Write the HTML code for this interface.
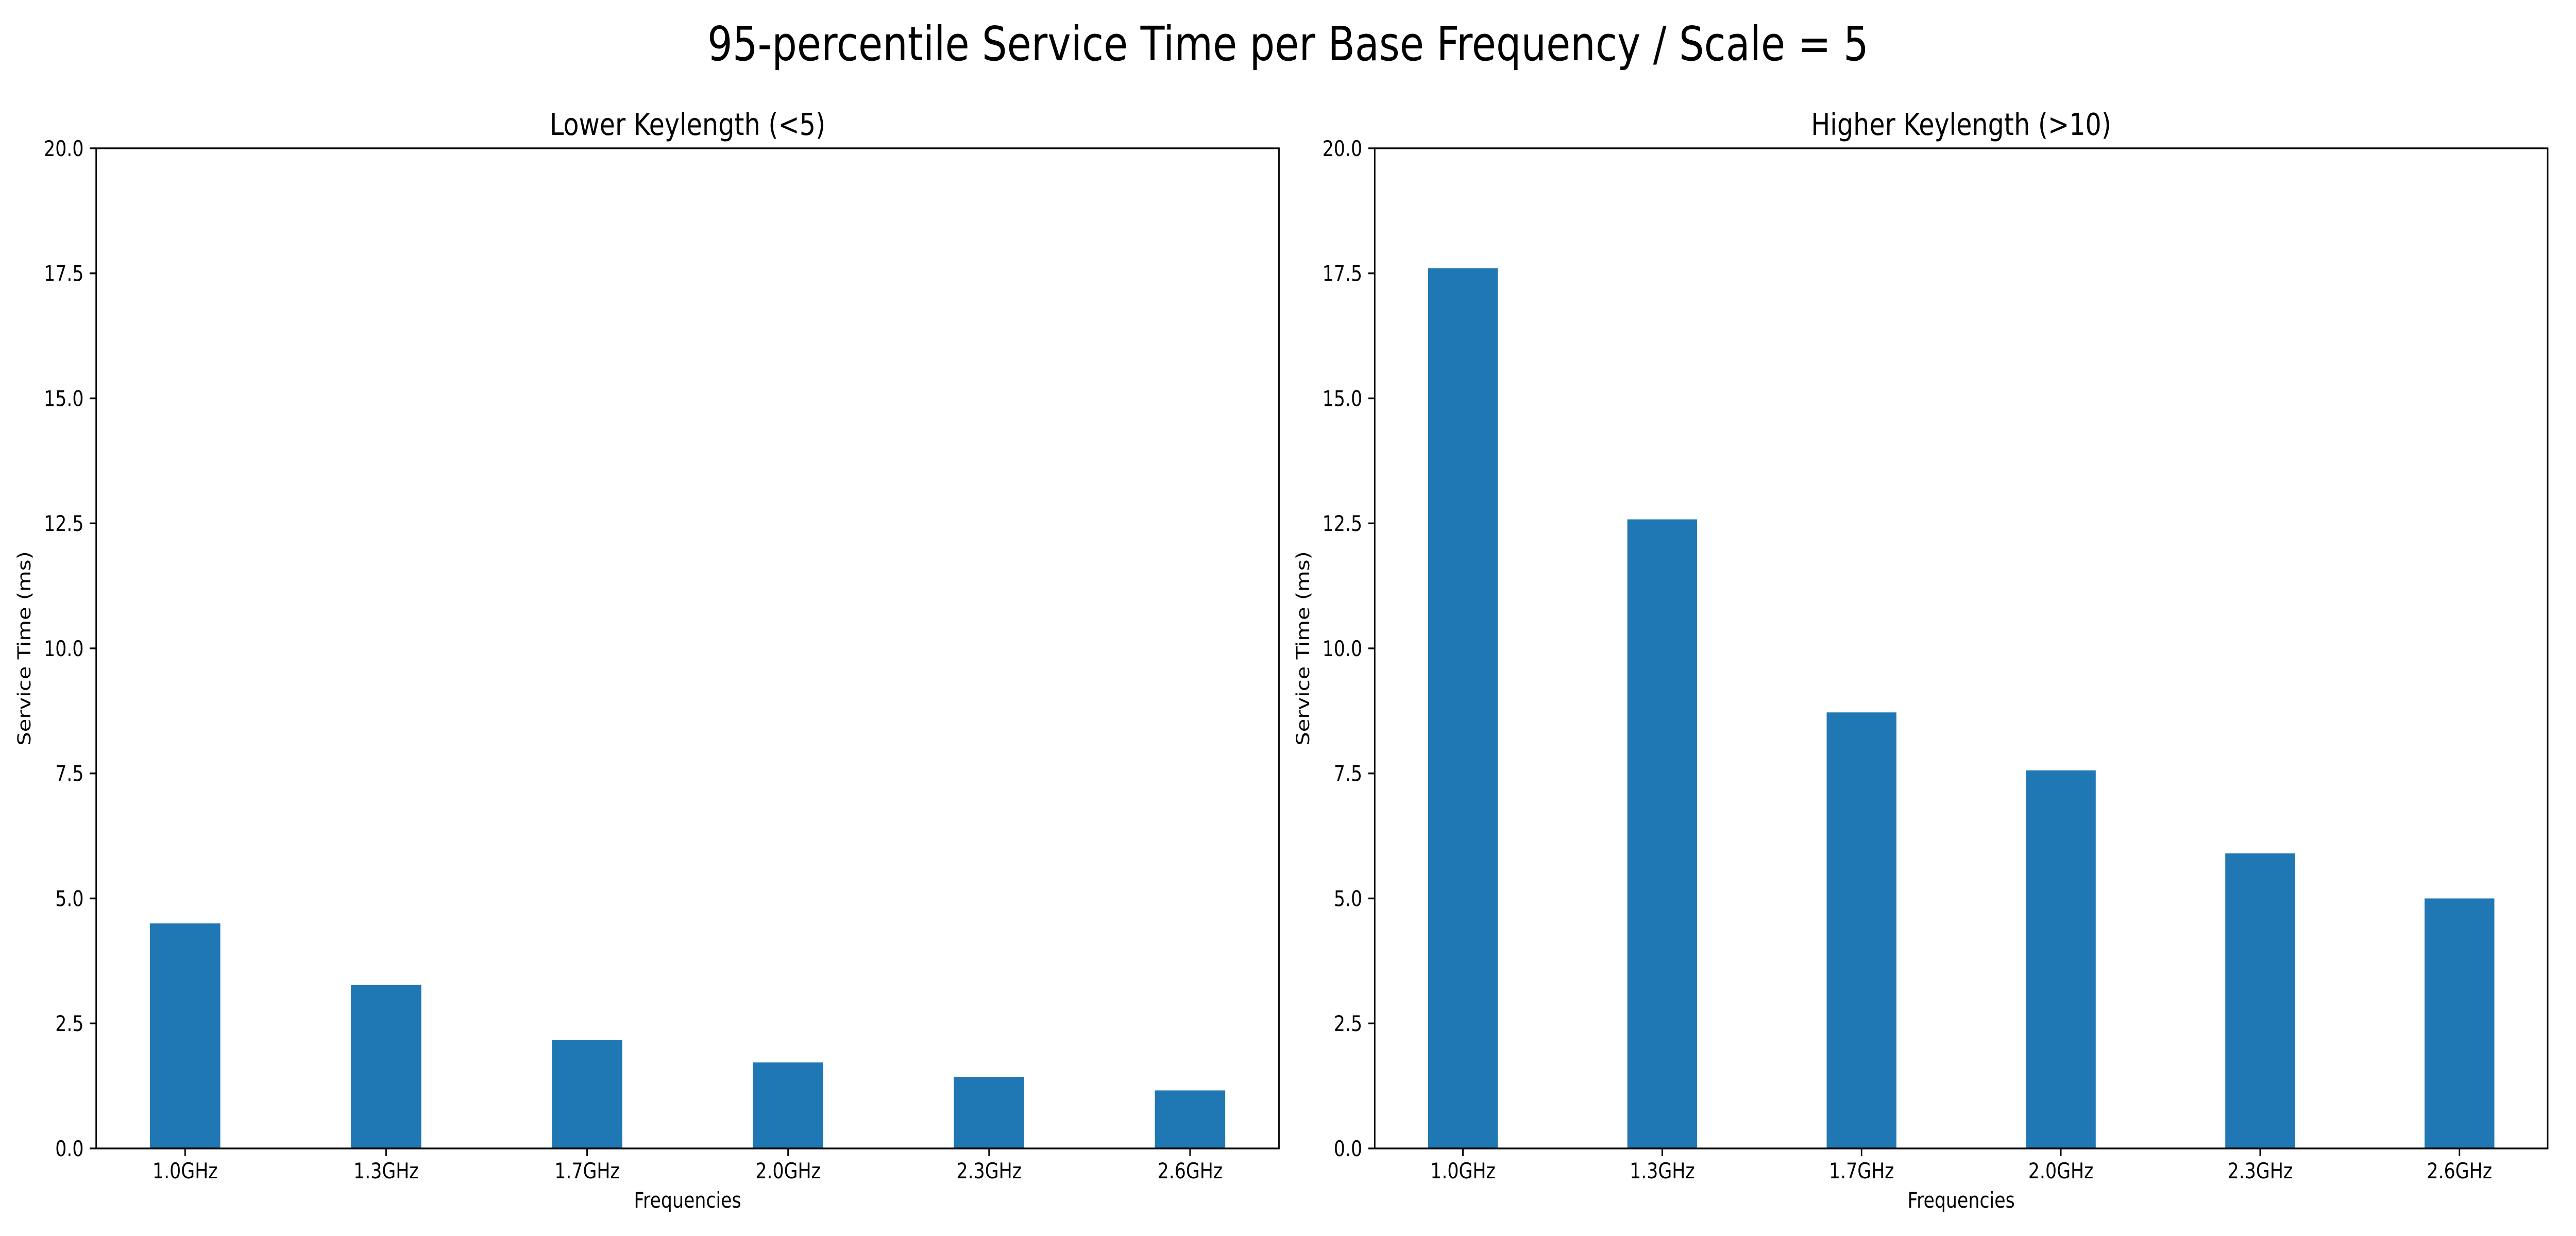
<!DOCTYPE html>
<html><head><meta charset="utf-8"><style>
html,body{margin:0;padding:0;background:#fff;width:100%;height:100%;overflow:hidden;}
svg{display:block;width:100vw;height:100vh;font-family:"DejaVu Sans","Liberation Sans",sans-serif;}
</style></head><body>
<svg id="fig" viewBox="0 0 6000 2400" preserveAspectRatio="none" xmlns="http://www.w3.org/2000/svg">
<rect width="6000" height="2400" fill="#fff"/>
<text x="3000" y="117" font-size="92" text-anchor="middle">95-percentile Service Time per Base Frequency / Scale = 5</text>
<g id="panels"></g>
</svg>
<script>
const categories = ["1.0GHz","1.3GHz","1.7GHz","2.0GHz","2.3GHz","2.6GHz"];
const lowerValues = [4.5, 3.27, 2.17, 1.72, 1.43, 1.16];
const higherValues = [17.6, 12.58, 8.72, 7.56, 5.9, 5.0];
const yTicks = [0, 2.5, 5, 7.5, 10, 12.5, 15, 17.5, 20];
const yTickLabels = ["0.0","2.5","5.0","7.5","10.0","12.5","15.0","17.5","20.0"];
const panelTitles = ["Lower Keylength (<5)", "Higher Keylength (>10)"];

const NS = "http://www.w3.org/2000/svg";
const panelRoot = document.getElementById('panels');
function mk(tag, attrs, parent){
  const e = document.createElementNS(NS, tag);
  for (const k in attrs) e.setAttribute(k, attrs[k]);
  parent.appendChild(e);
  return e;
}
const plotTop = 288, plotBottom = 2230;
const yMin = 0, yMax = 20;
const barW = 0.35;
const xMin = -0.4425, xMax = categories.length - 1 + 0.4425;

function drawPanel(left, right, values, title, idx){
  const g = mk('g', {}, panelRoot);
  
  
  const xs = v => left + (v - xMin) / (xMax - xMin) * (right - left);
  const ys = v => plotBottom - (v - yMin) / (yMax - yMin) * (plotBottom - plotTop);
  values.forEach((v, i) => {
    const r = mk('rect', {x: xs(i - barW/2), y: ys(v), width: xs(i + barW/2) - xs(i - barW/2), height: ys(0) - ys(v), fill: '#1f77b4'}, g);
    
    
  });
  const frame = mk('rect', {x: left, y: plotTop, width: right - left, height: plotBottom - plotTop, fill: 'none', stroke: '#000', 'stroke-width': 3.4}, g);
  
  
  yTicks.forEach((t, i) => {
    const y = ys(t);
    const tk = mk('line', {x1: left - 15, x2: left, y1: y, y2: y, stroke: '#000', 'stroke-width': 3.4}, g);
    
    
    const tx = mk('text', {x: left - 29, y: y + 15, 'font-size': 41.7, 'text-anchor': 'end'}, g);
    
    
    tx.textContent = yTickLabels[i];
  });
  categories.forEach((c, i) => {
    const x = xs(i);
    const tk = mk('line', {x1: x, x2: x, y1: plotBottom, y2: plotBottom + 15, stroke: '#000', 'stroke-width': 3.4}, g);
    
    
    const tx = mk('text', {x: x, y: 2288, 'font-size': 41.7, 'text-anchor': 'middle'}, g);
    
    
    tx.textContent = c;
  });
  const xl = mk('text', {x: (left + right) / 2, y: 2345, 'font-size': 41.7, 'text-anchor': 'middle'}, g);
  
  
  xl.textContent = 'Frequencies';
  const cy = (plotTop + plotBottom) / 2, lx = left - 153;
  const yl = mk('text', {x: lx, y: cy, 'font-size': 41.7, 'text-anchor': 'middle', transform: 'rotate(-90 ' + lx + ' ' + cy + ')'}, g);
  
  
  yl.textContent = 'Service Time (ms)';
  const tt = mk('text', {x: (left + right) / 2, y: 262, 'font-size': 59, 'text-anchor': 'middle'}, g);
  
  
  tt.textContent = title;
}
drawPanel(224, 2979, lowerValues, panelTitles[0], 0);
drawPanel(3202, 5934, higherValues, panelTitles[1], 1);
</script>
</body></html>
